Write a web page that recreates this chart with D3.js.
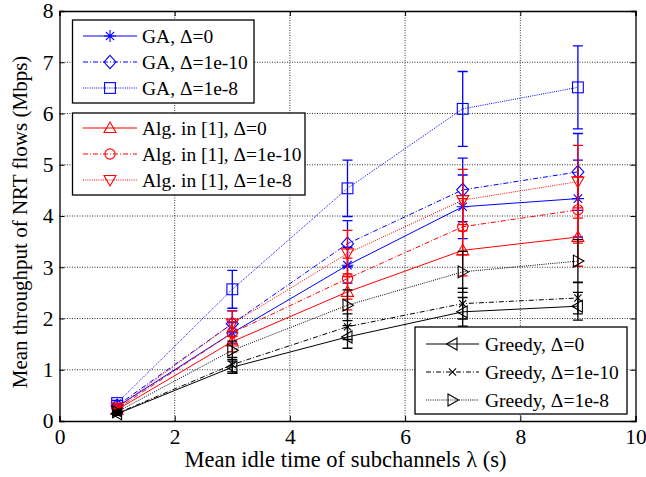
<!DOCTYPE html>
<html>
<head>
<meta charset="utf-8">
<script src="https://cdn.jsdelivr.net/npm/d3@7"></script>
<style>
  body { margin: 0; background: #fff; }
  svg { display: block; font-family: 'Liberation Serif', 'Times New Roman', serif; }
</style>
</head>
<body>
<svg id="chart" width="646" height="477"></svg>
<script>
// idle time values on the x axis
const lambdas = [1, 3, 5, 7, 9]

// mean throughput (Mbps)
const gaD0 = [0.28, 1.72, 3.04, 4.18, 4.34]
const gaD10 = [0.30, 1.90, 3.46, 4.51, 4.86]
const gaD8 = [0.35, 2.57, 4.54, 6.09, 6.51]
const algD0 = [0.22, 1.55, 2.52, 3.33, 3.59]
const algD10 = [0.24, 1.72, 2.78, 3.79, 4.12]
const algD8 = [0.26, 1.90, 3.27, 4.31, 4.67]
const greedyD0 = [0.14, 1.05, 1.64, 2.13, 2.24]
const greedyD10 = [0.15, 1.10, 1.84, 2.29, 2.40]
const greedyD8 = [0.18, 1.38, 2.26, 2.91, 3.12]

// error bar half-lengths
const gaD0Err = [0.04, 0.20, 0.35, 0.62, 0.75]
const gaD10Err = [0.04, 0.25, 0.45, 0.62, 0.75]
const gaD8Err = [0.05, 0.37, 0.55, 0.73, 0.81]
const algD0Err = [0.03, 0.20, 0.35, 0.50, 0.57]
const algD10Err = [0.03, 0.22, 0.40, 0.55, 0.65]
const algD8Err = [0.03, 0.25, 0.45, 0.60, 0.71]
const greedyD0Err = [0.03, 0.12, 0.22, 0.28, 0.27]
const greedyD10Err = [0.03, 0.14, 0.25, 0.30, 0.31]
const greedyD8Err = [0.03, 0.18, 0.30, 0.40, 0.42]

const xTicks = [0, 2, 4, 6, 8, 10]
const yTicks = [0, 1, 2, 3, 4, 5, 6, 7, 8]

const DASH = { solid: null, dashdot: '5,2,1,2', dotted: '1,1.2' }

const series = [
  { name: 'GA, \u0394=0', y: gaD0, err: gaD0Err, color: '#0000ff', dash: DASH.solid, marker: 'asterisk' },
  { name: 'GA, \u0394=1e-10', y: gaD10, err: gaD10Err, color: '#0000ff', dash: DASH.dashdot, marker: 'diamond' },
  { name: 'GA, \u0394=1e-8', y: gaD8, err: gaD8Err, color: '#0000ff', dash: DASH.dotted, marker: 'square' },
  { name: 'Alg. in [1], \u0394=0', y: algD0, err: algD0Err, color: '#ff0000', dash: DASH.solid, marker: 'triUp' },
  { name: 'Alg. in [1], \u0394=1e-10', y: algD10, err: algD10Err, color: '#ff0000', dash: DASH.dashdot, marker: 'circle' },
  { name: 'Alg. in [1], \u0394=1e-8', y: algD8, err: algD8Err, color: '#ff0000', dash: DASH.dotted, marker: 'triDown' },
  { name: 'Greedy, \u0394=0', y: greedyD0, err: greedyD0Err, color: '#000000', dash: DASH.solid, marker: 'triLeft' },
  { name: 'Greedy, \u0394=1e-10', y: greedyD10, err: greedyD10Err, color: '#000000', dash: DASH.dashdot, marker: 'cross' },
  { name: 'Greedy, \u0394=1e-8', y: greedyD8, err: greedyD8Err, color: '#000000', dash: DASH.dotted, marker: 'triRight' }
]

const margin = { left: 59.5, right: 10.5, top: 11, bottom: 56 }
const W = 646, H = 477
const svg = d3.select('#chart')

const x = d3.scaleLinear().domain([0, 10]).range([margin.left, W - margin.right])
const y = d3.scaleLinear().domain([0, 8]).range([H - margin.bottom, margin.top])

// grid
const grid = svg.append('g').attr('class', 'grid')
grid.selectAll('line.gx').data(xTicks.slice(1, -1)).join('line')
  .attr('x1', d => x(d)).attr('x2', d => x(d))
  .attr('y1', y(0)).attr('y2', y(8))
  .attr('stroke', '#000').attr('stroke-width', 0.8).attr('stroke-dasharray', '1,1.5')
grid.selectAll('line.gy').data(yTicks.slice(1, -1)).join('line')
  .attr('x1', x(0)).attr('x2', x(10))
  .attr('y1', d => y(d)).attr('y2', d => y(d))
  .attr('stroke', '#000').attr('stroke-width', 0.8).attr('stroke-dasharray', '1,1.5')

// axes with inward ticks on all sides
const tickLen = 5
const fmt = d3.format('d')
svg.append('g').attr('transform', `translate(0,${y(0)})`)
  .call(d3.axisBottom(x).tickValues(xTicks).tickSize(-tickLen).tickPadding(8).tickFormat(fmt))
svg.append('g').attr('transform', `translate(0,${y(8)})`)
  .call(d3.axisTop(x).tickValues(xTicks).tickSize(-tickLen).tickFormat(''))
svg.append('g').attr('transform', `translate(${x(0)},0)`)
  .call(d3.axisLeft(y).tickValues(yTicks).tickSize(-tickLen).tickPadding(6).tickFormat(fmt))
svg.append('g').attr('transform', `translate(${x(10)},0)`)
  .call(d3.axisRight(y).tickValues(yTicks).tickSize(-tickLen).tickFormat(''))
svg.selectAll('.domain').attr('stroke', '#000').attr('stroke-width', 1.3)
svg.selectAll('.tick line').attr('stroke', '#000')
svg.selectAll('.tick text')
  .attr('font-family', "'Liberation Serif', serif")
  .attr('font-size', 21.5).attr('fill', '#000')

// axis titles
svg.append('text')
  .attr('x', (x(0) + x(10)) / 2 - 2).attr('y', 467)
  .attr('text-anchor', 'middle').attr('font-size', 22.5)
  .text('Mean idle time of subchannels \u03bb (s)')
svg.append('text')
  .attr('transform', `translate(27,222) rotate(-90)`)
  .attr('text-anchor', 'middle').attr('font-size', 21)
  .text('Mean throughput of NRT flows (Mbps)')

function drawMarker(g, type, color, s) {
  const h = s / 2
  const add = (tag) => g.append(tag).attr('fill', 'none').attr('stroke', color).attr('stroke-width', 1.1)
  switch (type) {
    case 'asterisk':
      add('path').attr('d', `M${-h},0H${h}M0,${-h}V${h}M${-h * 0.7},${-h * 0.7}L${h * 0.7},${h * 0.7}M${-h * 0.7},${h * 0.7}L${h * 0.7},${-h * 0.7}`)
      break
    case 'cross':
      add('path').attr('d', `M${-h * 0.6},${-h * 0.6}L${h * 0.6},${h * 0.6}M${-h * 0.6},${h * 0.6}L${h * 0.6},${-h * 0.6}`)
      break
    case 'diamond':
      add('path').attr('d', `M0,${-h * 1.1}L${h},0L0,${h * 1.1}L${-h},0Z`)
      break
    case 'square':
      add('rect').attr('x', -h * 0.9).attr('y', -h * 0.9).attr('width', s * 0.9).attr('height', s * 0.9)
      break
    case 'circle':
      add('circle').attr('r', h * 0.85)
      break
    case 'triUp':
      add('path').attr('d', `M0,${-h}L${h},${h * 0.75}L${-h},${h * 0.75}Z`)
      break
    case 'triDown':
      add('path').attr('d', `M0,${h}L${h},${-h * 0.75}L${-h},${-h * 0.75}Z`)
      break
    case 'triLeft':
      add('path').attr('d', `M${-h},0L${h * 0.75},${-h}L${h * 0.75},${h}Z`)
      break
    case 'triRight':
      add('path').attr('d', `M${h},0L${-h * 0.75},${-h}L${-h * 0.75},${h}Z`)
      break
  }
}

// series
const line = d3.line().x(d => x(d[0])).y(d => y(d[1]))
const capW = 5
series.forEach(s => {
  const g = svg.append('g')
  const pts = lambdas.map((l, i) => [l, s.y[i], s.err[i]])
  g.append('path').datum(pts).attr('d', line)
    .attr('fill', 'none').attr('stroke', s.color).attr('stroke-width', 1)
    .attr('stroke-dasharray', s.dash)
  pts.forEach(p => {
    const cx = x(p[0]), top = y(p[1] + p[2]), bot = y(p[1] - p[2])
    g.append('path')
      .attr('d', `M${cx},${top}V${bot}M${cx - capW},${top}H${cx + capW}M${cx - capW},${bot}H${cx + capW}`)
      .attr('fill', 'none').attr('stroke', s.color).attr('stroke-width', 1.3)
    drawMarker(g.append('g').attr('transform', `translate(${cx},${y(p[1])})`), s.marker, s.color, 12)
  })
})

// legends
function legend(items, box, rows) {
  const g = svg.append('g')
  g.append('rect').attr('x', box[0]).attr('y', box[1]).attr('width', box[2]).attr('height', box[3])
    .attr('fill', '#fff').attr('stroke', '#000').attr('stroke-width', 1.3)
  items.forEach((s, i) => {
    const ry = rows.y[i]
    g.append('line').attr('x1', rows.x0).attr('x2', rows.x1).attr('y1', ry).attr('y2', ry)
      .attr('stroke', s.color).attr('stroke-width', 1).attr('stroke-dasharray', s.dash)
    drawMarker(g.append('g').attr('transform', `translate(${(rows.x0 + rows.x1) / 2},${ry})`), s.marker, s.color, 12)
    g.append('text').attr('x', rows.tx).attr('y', ry).attr('dy', '0.35em')
      .attr('font-size', 19.5).text(s.name)
  })
}
legend(series.slice(0, 3), [72.5, 20, 181.5, 83], { x0: 83, x1: 137, tx: 142, y: [36, 62, 88] })
legend(series.slice(3, 6), [72.5, 113, 232.5, 82], { x0: 83, x1: 137, tx: 142, y: [128, 154, 180] })
legend(series.slice(6, 9), [415, 327, 212, 87], { x0: 426, x1: 479, tx: 485, y: [344, 372, 400] })
</script>
</body>
</html>
